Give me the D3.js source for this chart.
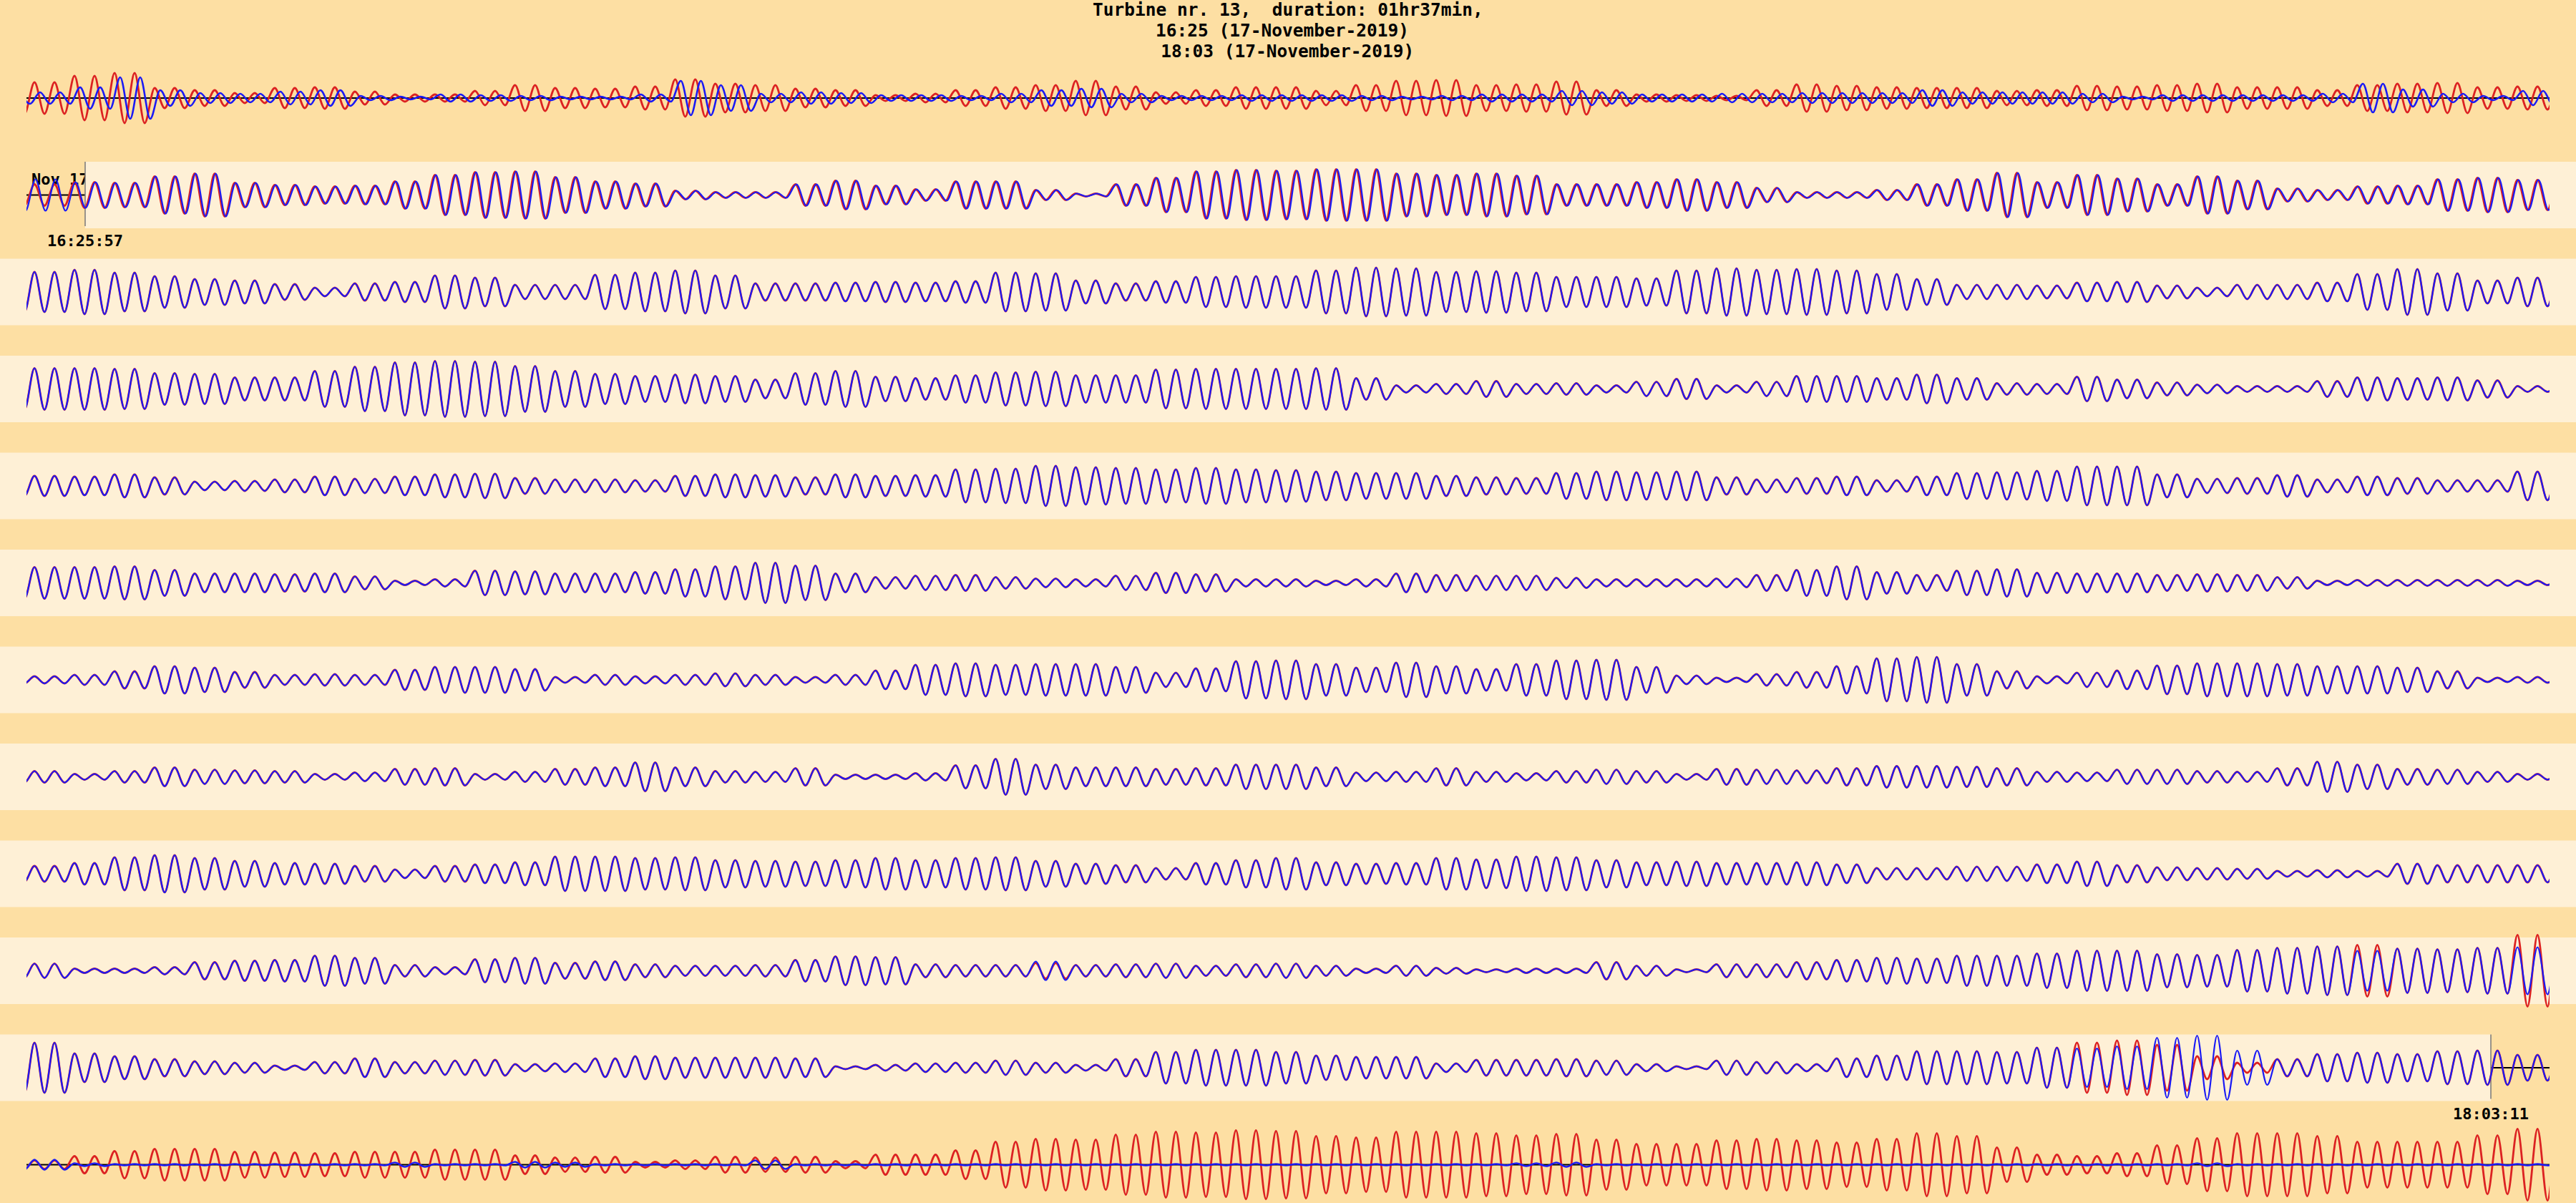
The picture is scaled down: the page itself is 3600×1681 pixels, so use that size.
<!DOCTYPE html>
<html><head><meta charset="utf-8">
<script src="https://cdn.jsdelivr.net/npm/d3@7"></script>
<style>html,body{margin:0;padding:0;background:#FDDFA3;} svg{display:block;}</style>
</head><body>
<script>
// ---------- data ----------
const titleLines = ["Turbine nr. 13,  duration: 01hr37min,", "16:25 (17-November-2019)", " 18:03 (17-November-2019)"];
const dateLabel = "Nov 17";
const brushStartLabel = "16:25:57";
const brushEndLabel = "18:03:11";
const brushStartRow = 1, brushStartCycle = 2.93;
const brushEndRow = 10, brushEndCycle = 123.07;
const rowIds = [0,1,2,3,4,5,6,7,8,9,10,11];
const cyclesPerRow = 126;

// peak amplitude for each pair of oscillation cycles (63 per row)
const red0 = [22,31,35,14,11,7,14,15,9,5,5,10,18,14,13,16,26,20,18,13,11,4,6,11,15,18,24,16,8,11,15,15,
              10,18,24,25,18,19,23,11,5,4,3,11,19,17,15,14,14,10,11,17,16,18,20,15,15,11,18,20,21,15,16];
const blue0 = [8,15,29,11,7,6,9,11,3,2,5,4,3,2,2,5,24,18,6,8,7,4,4,3,6,11,13,6,3,3,4,4,
               4,3,2,3,5,5,10,8,5,5,6,6,7,7,7,11,8,8,8,6,2,4,4,4,4,6,20,12,6,3,10];
const red1 = [15,18,17,26,30,17,14,12,13,19,28,32,33,25,19,16,6,4,4,15,20,13,8,19,19,7,2,15,24,33,35,34,
              36,36,30,28,30,27,15,15,18,22,18,10,4,4,7,15,22,31,18,28,23,15,26,20,9,7,12,13,22,24,21];
const blue1 = [22,18,17,26,30,17,14,12,13,19,28,32,33,25,19,16,6,4,4,15,20,13,8,19,19,7,2,15,24,33,35,34,
              36,36,30,28,30,27,15,15,18,22,18,10,4,4,7,15,22,31,18,28,23,15,26,20,9,7,12,13,22,24,21];
const red2 = [28,31,27,22,18,16,11,6,12,14,23,20,10,10,24,27,30,23,12,12,13,14,13,15,27,26,16,12,15,21,22,22,
              30,34,33,28,29,27,21,21,19,30,33,31,32,30,25,18,10,10,9,13,14,9,6,10,10,13,25,32,26,16,20];
const red3 = [29,29,28,22,21,16,16,25,31,37,39,38,32,25,21,18,20,18,13,22,25,17,15,19,23,24,19,19,27,28,28,28,
              29,15,5,7,11,7,8,5,10,14,5,10,18,18,15,20,15,8,7,17,13,9,6,4,4,11,16,15,16,12,4];
const red4 = [14,13,16,12,6,7,9,13,10,13,16,17,11,9,9,8,14,16,15,12,16,14,15,23,24,28,26,25,23,25,23,22,
              20,18,18,14,12,11,18,20,19,20,12,9,11,13,8,13,18,19,21,27,27,16,10,11,15,9,13,11,8,8,20];
const red5 = [22,22,23,18,13,13,12,13,9,3,5,17,16,13,13,15,19,23,28,24,13,8,10,11,8,6,5,10,14,12,5,5,
              3,5,13,11,10,10,7,5,5,5,6,11,18,23,15,11,17,19,14,13,13,11,12,11,8,3,4,4,4,4,3];
const red6 = [5,7,12,19,17,11,7,8,7,14,18,18,15,4,7,5,7,9,7,4,7,13,21,23,21,22,22,18,10,16,26,27,
              22,17,24,19,15,22,27,28,18,6,3,8,11,19,30,32,22,12,5,10,13,20,23,23,22,19,19,17,12,3,4];
const red7 = [8,4,8,13,10,9,8,4,6,11,12,4,7,11,13,20,13,8,7,12,3,3,5,16,25,17,13,13,11,12,17,17,
              13,6,7,12,7,5,8,10,8,4,11,10,9,12,15,15,14,12,7,6,10,10,8,7,12,21,17,11,10,7,4];
const red8 = [11,15,23,26,22,18,15,14,11,6,11,13,16,24,24,22,23,19,18,17,19,22,19,22,23,18,14,12,8,15,19,22,
              16,14,15,22,20,24,23,19,16,17,15,15,16,13,8,8,10,10,13,17,12,9,8,7,4,5,4,14,12,12,12];
const red9 = [10,3,3,5,12,14,15,21,18,8,5,16,18,11,13,9,7,7,8,15,20,19,9,8,8,11,8,9,10,7,9,10,
              7,3,7,4,2,3,3,12,7,2,9,9,12,15,18,17,21,21,24,28,28,23,22,29,32,34,36,31,30,32,50];
const blue9 = [10,3,3,5,12,14,15,21,18,8,5,16,18,11,13,9,7,7,8,15,20,19,9,8,8,13,8,9,10,7,9,10,
               7,3,7,4,2,3,3,12,7,2,9,9,12,15,18,17,21,21,24,28,28,23,22,29,32,34,28,31,30,32,33];
const red10 = [35,20,16,12,9,7,3,8,13,8,10,11,5,6,13,16,14,14,14,13,2,4,6,7,10,7,4,12,22,25,25,22,
               17,15,15,6,11,11,12,10,5,2,10,8,5,13,17,23,23,22,28,35,38,32,16,7,12,19,21,19,23,24,18];
const blue10 = [35,20,16,12,9,7,3,8,13,8,10,11,5,6,13,16,14,14,14,13,2,4,6,7,10,7,4,12,22,25,25,22,
                17,15,15,6,11,11,12,10,5,2,10,8,5,13,17,23,23,22,28,27,30,42,45,24,12,19,21,19,23,24,18];
const red11 = [6,12,19,22,22,18,17,16,18,18,21,21,13,10,11,4,6,11,10,11,5,14,14,20,32,36,35,42,46,45,48,47,
               40,38,46,46,44,41,43,35,29,29,34,36,34,31,36,44,40,24,14,12,16,27,37,44,44,40,32,32,32,41,50];
const blue11 = [7,2,1,1,1,1,1,1,1,3,1,1,4,3,1,1,1,1,6,1,1,1,1,1,1,1,1,1,1,1,1,1,
                1,1,1,1,1,2,3,1,1,1,1,1,1,1,1,1,1,1,1,1,1,1,2,1,1,1,1,1,1,1,1];

const redRows  = [red0, red1, red2, red3, red4, red5, red6, red7, red8, red9, red10, red11];
const blueRows = [blue0, blue1, red2, red3, red4, red5, red6, red7, red8, blue9, blue10, blue11];
const redPhase  = [0.4,0.4,0.4,0.4,0.4,0.4,0.4,0.4,0.4,0.4,0.4,0.4];
const bluePhase = [0.68,0.45,0.4,0.4,0.4,0.4,0.4,0.4,0.4,0.4,0.4,0.4];

// ---------- drawing ----------
const W = 3600, H = 1681;
const BG = "#FDDFA3", BAND = "#FEF0D6";
const RED = "#dc2222", BLUE = "#1a1af5";
const FONT = "'DejaVu Sans Mono', monospace";

const svg = d3.select("body").append("svg").attr("width", W).attr("height", H);
svg.append("rect").attr("width", W).attr("height", H).attr("fill", BG);

const x = d3.scaleLinear().domain([0, cyclesPerRow]).range([37, 3563]);
const rowY = d3.scalePoint().domain(rowIds).range([137, 1627.5]);
const half = 46.5;
const yOff = d3.scaleLinear().domain([-half, half]).range([half, -half]);

// title
svg.append("g").selectAll("text").data(titleLines).join("text")
  .attr("x", (d, i) => W / 2 - (i === 0 ? 0 : 8)).attr("y", (d, i) => 22 + i * 29)
  .attr("text-anchor", "middle")
  .style("white-space", "pre")
  .attr("font-family", FONT).attr("font-weight", "bold").attr("font-size", 24.5)
  .attr("fill", "#000").text(d => d);

// zero lines
svg.append("g").selectAll("line").data(rowIds).join("line")
  .attr("x1", x(0)).attr("x2", x(cyclesPerRow))
  .attr("y1", d => rowY(d)).attr("y2", d => rowY(d))
  .attr("stroke", "#000").attr("stroke-width", 2);

// date label (partly hidden by the brush band)
svg.append("text").attr("x", 44).attr("y", rowY(brushStartRow) - 14.5)
  .attr("font-family", FONT).attr("font-weight", "bold").attr("font-size", 22)
  .attr("fill", "#000").text(dateLabel);

// brush bands
const bandRows = rowIds.filter(r => r >= brushStartRow && r <= brushEndRow);
svg.append("g").selectAll("rect").data(bandRows).join("rect")
  .attr("x", r => r === brushStartRow ? x(brushStartCycle) : 0)
  .attr("width", r => (r === brushEndRow ? x(brushEndCycle) : W) - (r === brushStartRow ? x(brushStartCycle) : 0))
  .attr("y", r => rowY(r) - half).attr("height", 2 * half)
  .attr("fill", BAND);

// brush edges
const edges = [
  {row: brushStartRow, cyc: brushStartCycle, label: brushStartLabel},
  {row: brushEndRow, cyc: brushEndCycle, label: brushEndLabel}
];
svg.append("g").selectAll("line").data(edges).join("line")
  .attr("x1", d => x(d.cyc)).attr("x2", d => x(d.cyc))
  .attr("y1", d => rowY(d.row) - half).attr("y2", d => rowY(d.row) + half - 3)
  .attr("stroke", "#777").attr("stroke-width", 1.5);
svg.append("g").selectAll("text").data(edges).join("text")
  .attr("x", d => x(d.cyc)).attr("y", d => rowY(d.row) + half + 25)
  .attr("text-anchor", "middle")
  .attr("font-family", FONT).attr("font-weight", "bold").attr("font-size", 22)
  .attr("fill", "#000").text(d => d.label);

// signals
svg.append("clipPath").attr("id", "rowclip").append("rect")
  .attr("x", x(0)).attr("y", 0).attr("width", x(cyclesPerRow) - x(0)).attr("height", H);

function extrema(amps, phase) {
  const pts = [];
  for (let c = -1; c <= cyclesPerRow; c++) {
    const a = amps[Math.max(0, Math.min(amps.length - 1, Math.floor(c / 2)))];
    pts.push([c + phase, a]);
    pts.push([c + phase + 0.5, -a]);
  }
  return pts;
}

const sig = svg.append("g").attr("clip-path", "url(#rowclip)");
rowIds.forEach(r => {
  const line = d3.line().x(d => x(d[0])).y(d => rowY(r) + yOff(d[1])).curve(d3.curveMonotoneX);
  sig.append("path").attr("d", line(extrema(redRows[r], redPhase[r])))
    .attr("fill", "none").attr("stroke", RED).attr("stroke-width", 2.8);
  sig.append("path").attr("d", line(extrema(blueRows[r], bluePhase[r])))
    .attr("fill", "none").attr("stroke", BLUE).attr("stroke-width", r === 0 || r === 11 ? 2.6 : 2.2);
});
</script>
</body></html>
